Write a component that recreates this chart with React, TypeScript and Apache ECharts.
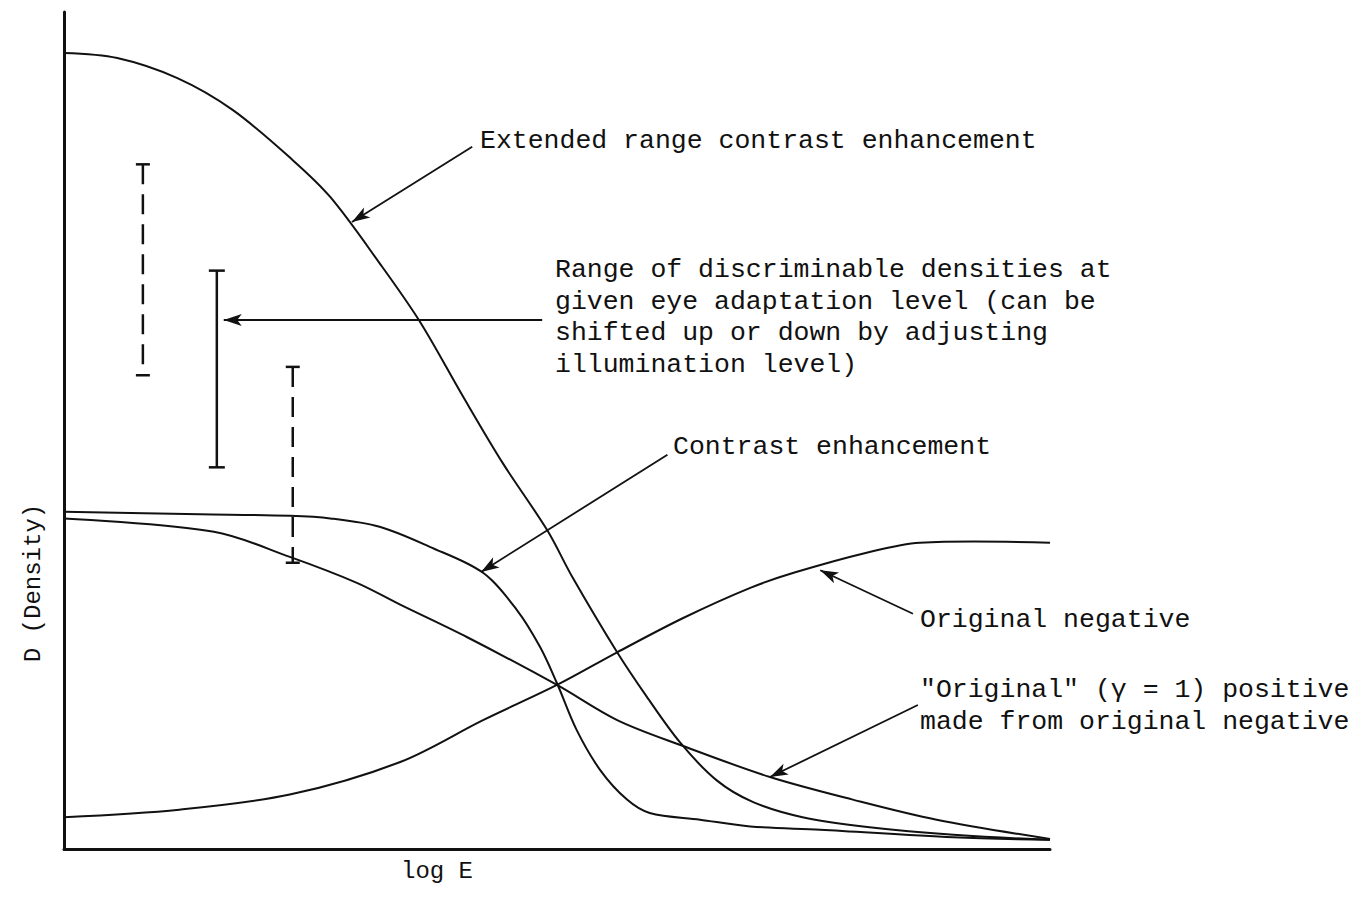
import React, { useEffect, useRef } from "react";
import * as echarts from "echarts";

// Curves: [log E, D] in axis units (x 0–10, y 0–10)
const extendedRange: number[][] = [
  [0, 9.51], [0.54, 9.45], [1.15, 9.21], [1.71, 8.83], [2.32, 8.23], [2.7, 7.79],
  [3.2, 7.0], [3.61, 6.3], [4.05, 5.4], [4.45, 4.61], [4.9, 3.81], [5.16, 3.24],
  [5.61, 2.35], [5.91, 1.82], [6.25, 1.27], [6.62, 0.82], [6.99, 0.56], [7.49, 0.38],
  [8.17, 0.26], [9.02, 0.17], [10, 0.11],
];
const contrastEnh: number[][] = [
  [0, 4.03], [1.38, 4.0], [2.29, 3.98], [2.7, 3.95], [3.2, 3.85], [3.71, 3.61],
  [4.25, 3.3], [4.59, 2.86], [4.83, 2.41], [5.0, 1.98], [5.2, 1.42], [5.44, 0.94],
  [5.71, 0.59], [5.94, 0.43], [6.45, 0.35], [6.96, 0.27], [7.67, 0.23], [9.02, 0.14],
  [10, 0.11],
];
const originalPositive: number[][] = [
  [0, 3.95], [1.52, 3.79], [2.29, 3.49], [2.97, 3.18], [3.41, 2.92], [4.09, 2.53],
  [5.0, 1.96], [5.61, 1.54], [6.28, 1.23], [7.16, 0.86], [8.0, 0.59], [8.85, 0.35],
  [10, 0.12],
];
const originalNegative: number[][] = [
  [0, 0.38], [1.17, 0.47], [2.29, 0.65], [3.41, 1.04], [4.25, 1.54], [5.0, 1.96],
  [5.61, 2.35], [6.28, 2.76], [6.96, 3.12], [7.4, 3.3], [8.14, 3.54], [8.68, 3.66],
  [10, 3.66],
];
// Range bars: [x, yLow, yHigh, dashed(1)/solid(0)]
const rangeBars: number[][] = [
  [0.8, 5.66, 8.18, 1],
  [1.55, 4.56, 6.91, 0],
  [2.32, 3.42, 5.76, 1],
];
// Annotation arrows: [fromX, fromY, toX, toY]
const arrows: number[][] = [
  [4.14, 8.39, 2.92, 7.49],
  [4.85, 6.32, 1.62, 6.32],
  [6.12, 4.71, 4.23, 3.31],
  [8.61, 2.81, 7.67, 3.33],
  [8.66, 1.72, 7.16, 0.86],
];
const annotationTexts: { lines: string[]; x: number; y: number }[] = [
  { lines: ["Extended range contrast enhancement"], x: 480, y: 141 },
  {
    lines: [
      "Range of discriminable densities at",
      "given eye adaptation level (can be",
      "shifted up or down by adjusting",
      "illumination level)",
    ],
    x: 555,
    y: 270,
  },
  { lines: ["Contrast enhancement"], x: 673, y: 447 },
  { lines: ["Original negative"], x: 920, y: 620 },
  { lines: ['"Original" (γ = 1) positive', "made from original negative"], x: 920, y: 690 },
];

const FONT = "'Liberation Mono', 'DejaVu Sans Mono', monospace";

export default function App() {
  const ref = useRef<HTMLDivElement>(null);
  useEffect(() => {
    document.body.style.margin = "0";
    document.body.style.overflow = "hidden";
    const chart = echarts.init(ref.current!, null, { renderer: "svg" });
    const mkCurve = (name: string, data: number[][]) => ({
      name,
      type: "custom",
      data,
      silent: true,
      renderItem: (params: any, api: any) => {
        if (params.dataIndex !== 0) return null;
        return {
          type: "polyline",
          shape: { points: data.map((p) => api.coord(p)), smooth: 0.33 },
          style: { stroke: "#111", lineWidth: 2, fill: "none" },
        };
      },
    });
    const graphicTexts: any[] = [];
    annotationTexts.forEach((t) => {
      t.lines.forEach((line, i) => {
        graphicTexts.push({
          type: "text",
          x: t.x,
          y: t.y + i * 31.5,
          style: {
            text: line,
            font: `26.5px ${FONT}`,
            fill: "#111",
            textVerticalAlign: "middle",
          },
        });
      });
    });
    graphicTexts.push({
      type: "text",
      x: 33,
      y: 583,
      rotation: Math.PI / 2,
      style: {
        text: "D (Density)",
        font: `24px ${FONT}`,
        fill: "#111",
        textAlign: "center",
        textVerticalAlign: "middle",
      },
    });
    graphicTexts.push({
      type: "text",
      x: 437,
      y: 871,
      style: {
        text: "log E",
        font: `24px ${FONT}`,
        fill: "#111",
        textAlign: "center",
        textVerticalAlign: "middle",
      },
    });

    chart.setOption({
      animation: false,
      backgroundColor: "#fff",
      grid: { left: 64, right: 311, top: 12, bottom: 61 },
      xAxis: {
        type: "value",
        min: 0,
        max: 10,
        axisLine: { show: true, onZero: false, lineStyle: { color: "#111", width: 3 } },
        axisTick: { show: false },
        axisLabel: { show: false },
        splitLine: { show: false },
      },
      yAxis: {
        type: "value",
        min: 0,
        max: 10,
        axisLine: { show: true, onZero: false, lineStyle: { color: "#111", width: 3 } },
        axisTick: { show: false },
        axisLabel: { show: false },
        splitLine: { show: false },
      },
      series: [
        mkCurve("Extended range contrast enhancement", extendedRange),
        mkCurve("Contrast enhancement", contrastEnh),
        mkCurve("Original positive", originalPositive),
        mkCurve("Original negative", originalNegative),
        {
          type: "custom",
          name: "Range bars",
          data: rangeBars,
          silent: true,
          renderItem: (params: any, api: any) => {
            const x = api.value(0);
            const lo = api.coord([x, api.value(1)]);
            const hi = api.coord([x, api.value(2)]);
            const dashed = api.value(3) === 1;
            const capW = dashed ? 7 : 8;
            const st = { stroke: "#111", lineWidth: 2.5, fill: "none" };
            return {
              type: "group",
              children: [
                {
                  type: "line",
                  shape: { x1: hi[0], y1: hi[1], x2: lo[0], y2: lo[1] },
                  style: { ...st, lineDash: dashed ? [20, 10] : null },
                },
                {
                  type: "line",
                  shape: { x1: hi[0] - capW, y1: hi[1], x2: hi[0] + capW, y2: hi[1] },
                  style: st,
                },
                {
                  type: "line",
                  shape: { x1: lo[0] - capW, y1: lo[1], x2: lo[0] + capW, y2: lo[1] },
                  style: st,
                },
              ],
            };
          },
        },
        {
          type: "line",
          name: "Arrows",
          data: [],
          silent: true,
          markLine: {
            silent: true,
            symbol: ["none", "arrow"],
            symbolSize: [9, 18],
            label: { show: false },
            lineStyle: { color: "#111", width: 1.8, type: "solid" },
            data: arrows.map((a) => [
              { coord: [a[0], a[1]] },
              { coord: [a[2], a[3]] },
            ]),
          },
        },
      ],
      graphic: graphicTexts,
    });
    return () => chart.dispose();
  }, []);
  return <div ref={ref} style={{ width: 1361, height: 910 }} />;
}
